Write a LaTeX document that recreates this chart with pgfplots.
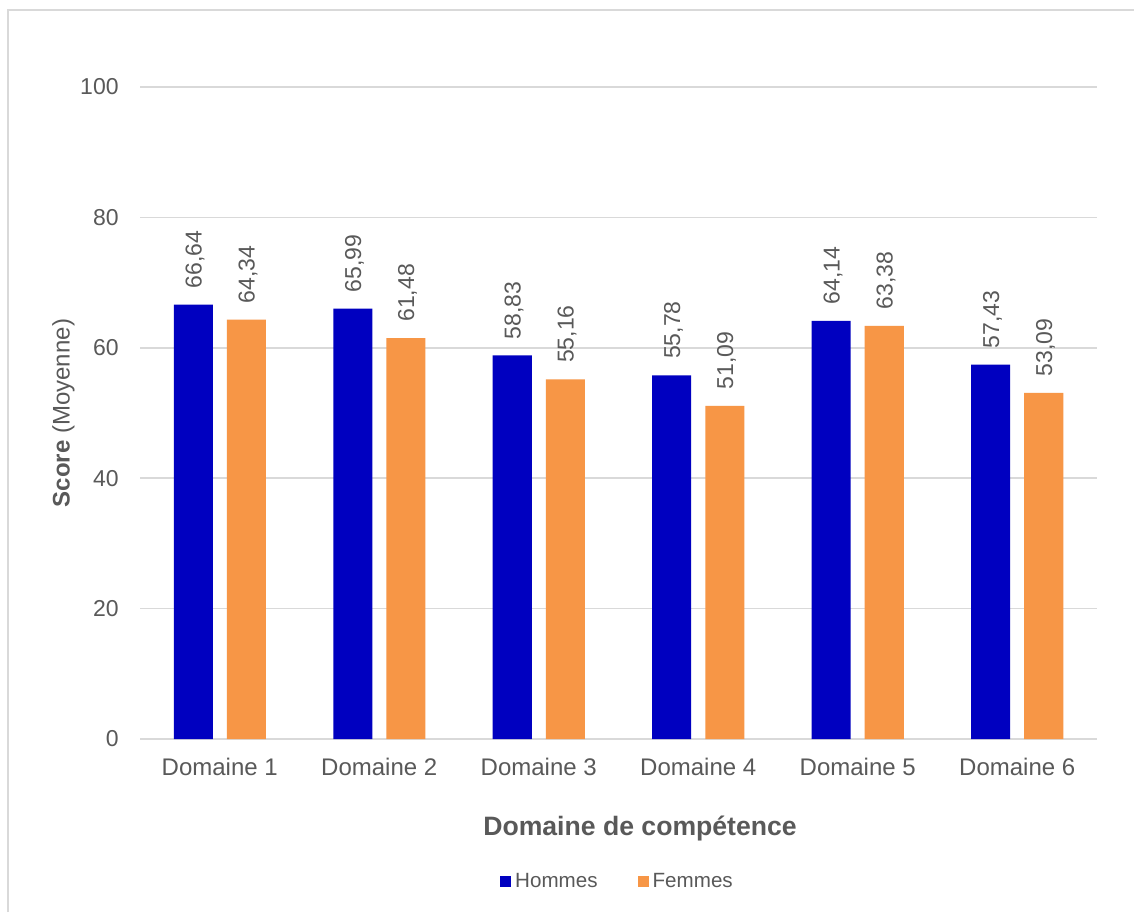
\documentclass[border=0pt]{standalone}
\usepackage{fontspec}
\setmainfont{Liberation Sans}
\usepackage{pgfplots}
\pgfplotsset{compat=1.18}
\definecolor{hommes}{RGB}{0,0,192}
\definecolor{femmes}{RGB}{247,150,70}
\definecolor{txt}{RGB}{89,89,89}
\definecolor{gridc}{RGB}{217,217,217}
\begin{document}
\begin{tikzpicture}
\useasboundingbox[fill=white] (0,0) rectangle (567pt,456pt);
% outer chart frame
\draw[gridc, line width=0.75pt] (4pt,0) -- (4pt,451pt) -- (567pt,451pt);
\begin{axis}[
  at={(70pt,86.5pt)}, anchor=south west,
  scale only axis, width=478.5pt, height=326pt,
  ybar=7pt, bar width=19.5pt,
  xmin=-0.5, xmax=5.5, ymin=0, ymax=100,
  xtick=data,
  xticklabels={Domaine 1,Domaine 2,Domaine 3,Domaine 4,Domaine 5,Domaine 6},
  ytick={0,20,40,60,80,100},
  major tick length=0pt,
  axis line style={draw=none},
  ymajorgrids, grid style={gridc, line width=0.75pt},
  /pgf/number format/assume math mode=true,
  x tick label style={font=\fontsize{12pt}{14pt}\selectfont, color=txt, inner sep=0pt, yshift=-9.5pt},
  y tick label style={font=\fontsize{11.5pt}{14pt}\selectfont, color=txt, inner sep=0pt, xshift=-10.5pt},
  xlabel={\textbf{Domaine de compétence}},
  xlabel style={at={(axis description cs:0.5225,-0.138)}, anchor=center, font=\fontsize{13.3pt}{16pt}\selectfont, color=txt},
  ylabel={\textbf{Score} (Moyenne)},
  ylabel style={at={(axis description cs:-0.08,0.5)}, anchor=center, font=\fontsize{12pt}{14pt}\selectfont, color=txt},
  nodes near coords,
  every node near coord/.append style={xshift=4.2pt, yshift=8pt, rotate=90, anchor=base west, inner sep=0pt,
    font=\fontsize{11.5pt}{14pt}\selectfont, color=txt,
    /pgf/number format/.cd, use comma, fixed, precision=2, fixed zerofill, assume math mode=true},
  legend style={at={(0.5,-0.219)}, anchor=center, draw=none, legend columns=2,
    font=\fontsize{10.3pt}{12pt}\selectfont, text=txt,
    /tikz/every even column/.append style={column sep=18pt}},
  legend image code/.code={\fill[#1] (0pt,-2.75pt) rectangle (5.5pt,2.75pt);},
]
\addplot[fill=hommes, draw=none] coordinates {(0,66.64) (1,65.99) (2,58.83) (3,55.78) (4,64.14) (5,57.43)};
\addplot[fill=femmes, draw=none] coordinates {(0,64.34) (1,61.48) (2,55.16) (3,51.09) (4,63.38) (5,53.09)};
\legend{Hommes,Femmes}
\end{axis}
\end{tikzpicture}
\end{document}
